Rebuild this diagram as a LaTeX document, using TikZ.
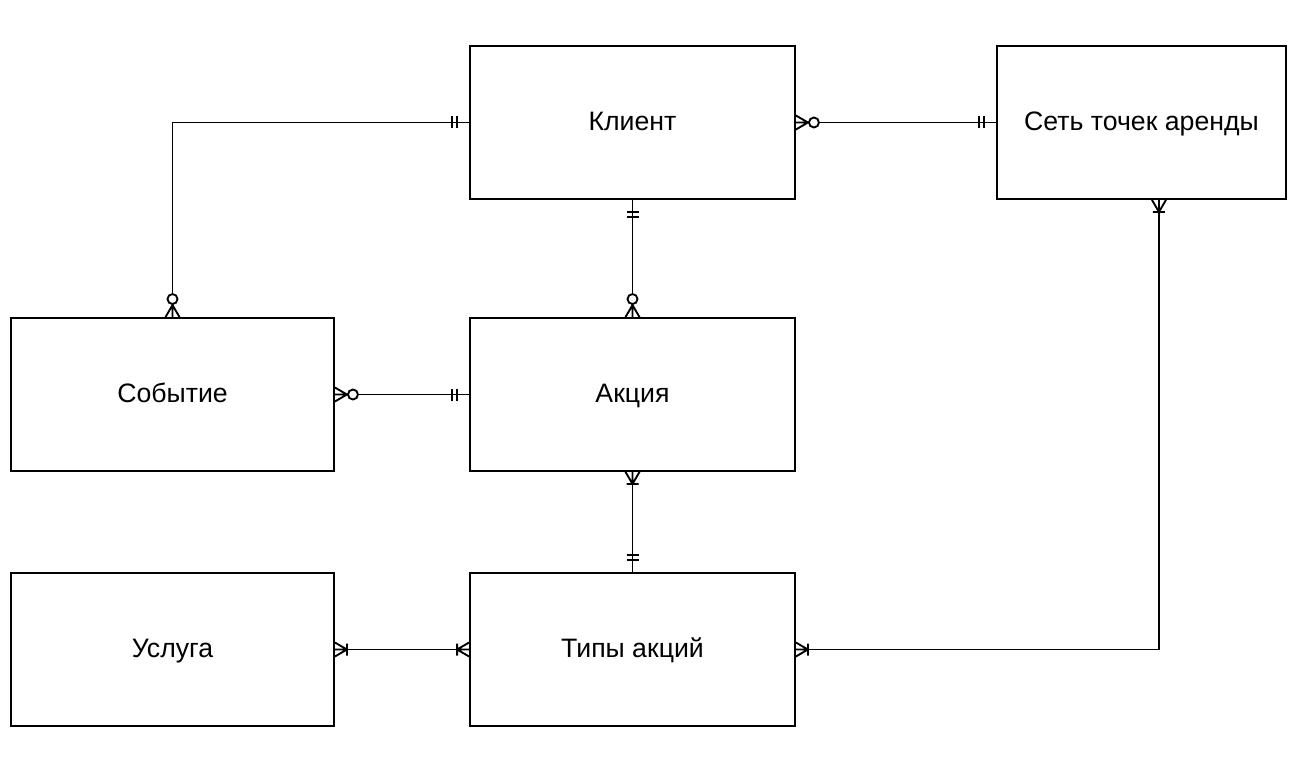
\documentclass[tikz,border=0pt]{standalone}
\usepackage{fontspec}
\setmainfont{Liberation Sans}
\tikzset{
  x=0.75pt, y=-0.75pt,
  lw/.style={line width=1.4pt},
  ent/.style={draw, lw, rectangle, inner sep=0pt,
    minimum width=243.75pt, minimum height=114.75pt,
    text height=12.5pt, text depth=0pt,
    font=\fontsize{20}{24}\selectfont},
  rel/.style={draw, lw},
  erone/.pic={\draw[lw] (12,-6)--(12,6) (17,-6)--(17,6);},
  erzmany/.pic={\draw[lw] (0,-7)--(12,0)--(0,7) (0,0)--(12,0);
                \draw[lw, fill=white] (18,0) circle[radius=5];},
  eromany/.pic={\draw[lw] (0,-7)--(12,0)--(0,7) (0,0)--(12,0) (12,-6)--(12,6);},
}
\begin{document}
\begin{tikzpicture}
\useasboundingbox[fill=white] (0,0) rectangle (1300,774);
\node[ent] (kl) at (632.5,122.5) {Клиент};
\node[ent, minimum width=216.75pt] (net) at (1141.5,122.5) {Сеть точек аренды};
\node[ent, minimum width=242.25pt] (sob) at (172.5,394.5) {Событие};
\node[ent] (ak) at (632.5,394.5) {Акция};
\node[ent, minimum width=242.25pt] (usl) at (172.5,649.5) {Услуга};
\node[ent] (tip) at (632.5,649.5) {Типы акций};
\coordinate (netb) at ([xshift=13.1pt]net.south);
% connectors
\draw[rel] (kl.west) -| (sob.north);
\draw[rel] (kl.east) -- (net.west);
\draw[rel] (kl.south) -- (ak.north);
\draw[rel] (sob.east) -- (ak.west);
\draw[rel] (ak.south) -- (tip.north);
\draw[rel] (usl.east) -- (tip.west);
\draw[rel] (tip.east) -| (netb);
% markers
\pic[rotate=180] at (kl.west) {erone};
\pic[rotate=90] at (sob.north) {erzmany};
\pic at (kl.east) {erzmany};
\pic[rotate=180] at (net.west) {erone};
\pic[rotate=-90] at (kl.south) {erone};
\pic[rotate=90] at (ak.north) {erzmany};
\pic at (sob.east) {erzmany};
\pic[rotate=180] at (ak.west) {erone};
\pic[rotate=-90] at (ak.south) {eromany};
\pic[rotate=90] at (tip.north) {erone};
\pic at (usl.east) {eromany};
\pic[rotate=180] at (tip.west) {eromany};
\pic at (tip.east) {eromany};
\pic[rotate=-90] at (netb) {eromany};
\end{tikzpicture}
\end{document}
